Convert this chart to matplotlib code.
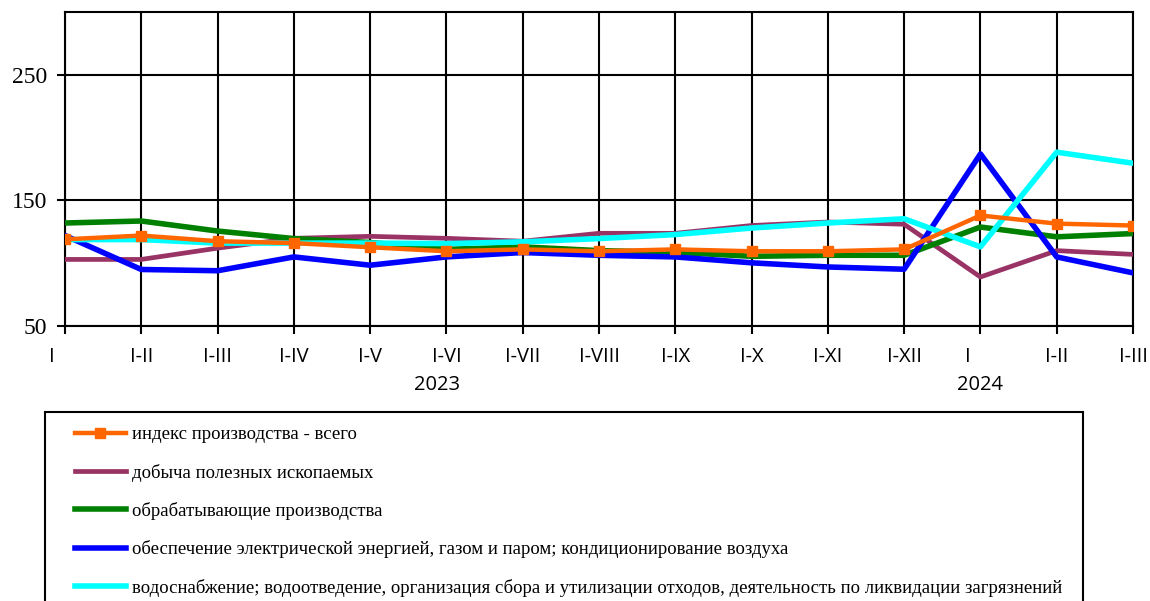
import matplotlib.pyplot as plt
import matplotlib.transforms as mtransforms
from matplotlib.patches import Rectangle

# Периоды
periods = ["I", "I-II", "I-III", "I-IV", "I-V", "I-VI", "I-VII", "I-VIII",
           "I-IX", "I-X", "I-XI", "I-XII", "I", "I-II", "I-III"]

total = [119, 122, 117.5, 116, 112.7, 109.5, 111, 109.5, 111, 109.5, 109.5, 111, 138, 131.5, 130]
mining = [103, 103, 112, 119.8, 121.4, 119.8, 117.5, 123.8, 123.8, 130, 132.8, 131, 89, 110, 107]
manufacturing = [132, 133.6, 125.6, 119.6, 116.5, 111, 113, 110, 108.7, 105.5, 106.3, 106.3, 128.8, 121, 123.6]
energy = [122, 95, 94, 105, 98.4, 105, 108.5, 106.3, 105, 100.3, 97, 95.2, 187, 105, 92.3]
water = [118.8, 118.8, 116, 116, 116, 115.6, 117, 119.6, 122.8, 128, 132, 135.4, 113, 188.4, 179.6]

labels = ["индекс производства - всего",
          "добыча полезных ископаемых",
          "обрабатывающие производства",
          "обеспечение электрической энергией, газом и паром; кондиционирование воздуха",
          "водоснабжение; водоотведение, организация сбора и утилизации отходов, деятельность по ликвидации загрязнений"]

fig = plt.figure(figsize=(11.5, 6.01), dpi=100)
ax = fig.add_axes([65 / 1150, 1 - 326 / 601, (1133 - 65) / 1150, (326 - 12) / 601])

x = range(len(periods))
l_total, = ax.plot(x, total, color="#ff6600", lw=3.2, marker="s", ms=7, zorder=7)
l_min, = ax.plot(x, mining, color="#993366", lw=3.4, zorder=3)
l_man, = ax.plot(x, manufacturing, color="#008000", lw=4, zorder=4)
l_en, = ax.plot(x, energy, color="#0000ff", lw=4, zorder=5)
l_w, = ax.plot(x, water, color="#00ffff", lw=4, zorder=6)

ax.set_xlim(0, len(periods) - 1)
ax.set_ylim(50, 300)
ax.set_yticks([50, 150, 250])
ax.set_xticks(list(x))
ax.set_xticklabels(periods, family="Open Sans", fontsize=14.5)
for t in ax.get_yticklabels():
    t.set_family("Liberation Serif")
    t.set_fontsize(17)
ax.tick_params(axis="both", length=6, width=1.5, color="black")
ax.tick_params(axis="x", pad=9)
ax.tick_params(axis="y", pad=7)
ax.grid(True, color="black", lw=1.5)
for s in ax.spines.values():
    s.set_linewidth(1.5)

# подписи "I" немного сдвинуты влево
shift = mtransforms.ScaledTranslation(-13 / 100, 0, fig.dpi_scale_trans)
for i, t in enumerate(ax.get_xticklabels()):
    if periods[i] == "I":
        t.set_transform(t.get_transform() + shift)

ax.text(4.88, -0.188, "2023", transform=ax.get_xaxis_transform(), ha="center", va="center",
        family="Open Sans", fontsize=14.5)
ax.text(12, -0.188, "2024", transform=ax.get_xaxis_transform(), ha="center", va="center",
        family="Open Sans", fontsize=14.5)

# Легенда
fig.patches.append(Rectangle((45 / 1150, -0.05), (1083 - 45) / 1150, 1 - 412 / 601 + 0.05,
                             transform=fig.transFigure, fill=False, ec="black", lw=1.5))
fig.legend([l_total, l_min, l_man, l_en, l_w], labels, loc="upper left",
           bbox_to_anchor=(75 / 1150, 1 - 426 / 601), frameon=False,
           prop={"family": "Liberation Serif", "size": 13.5},
           handlelength=2.7, handletextpad=0.32, labelspacing=1.09, borderaxespad=0,
           borderpad=0)

fig.savefig("out.png", dpi=100)
